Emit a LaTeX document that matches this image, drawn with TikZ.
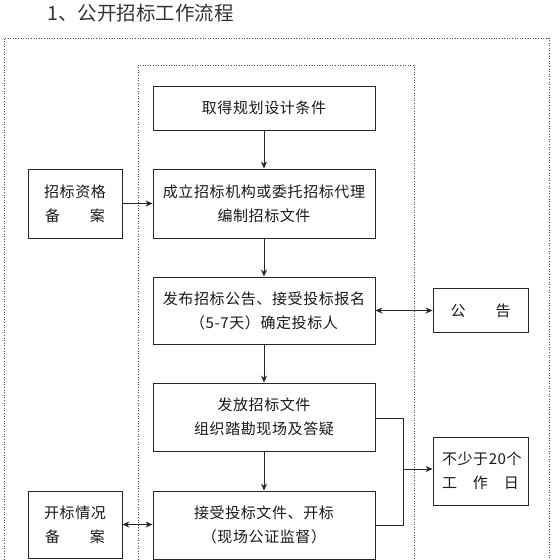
\documentclass[tikz,border=0pt]{standalone}
\usepackage{fontspec}
\newfontfamily\cjk{Noto Sans CJK SC}
\newfontfamily\cjks[LetterSpace=4]{Noto Sans CJK SC}
\usetikzlibrary{arrows.meta}
\tikzset{
  box/.style={draw=black!85, line width=0.9pt, rectangle, inner sep=0pt, align=center,
    font=\cjks\fontsize{15}{24}\selectfont, text=black!90},
  dotbox/.style={draw=black!70, line width=0.9pt, dash pattern=on 1pt off 1.6pt},
  arr/.style={draw=black!85, line width=0.9pt, -{Stealth[length=7pt,width=6pt]}},
  darr/.style={draw=black!85, line width=0.9pt, {Stealth[length=7pt,width=6pt]}-{Stealth[length=7pt,width=6pt]}},
  ln/.style={draw=black!85, line width=0.9pt}
}
\begin{document}
\begin{tikzpicture}[x=1pt,y=-1pt]
\useasboundingbox (0,0) rectangle (552,560);
\clip (0,0) rectangle (552,560);
\fill[white] (0,0) rectangle (552,560);
% title
\node[font=\cjk\fontsize{19.5}{22}\selectfont, text=black!80, anchor=west] (title) at (44,13) {1、公开招标工作流程};
% dotted frames
\draw[dotbox] (4,570) -- (4,38) -- (549,38) -- (549,570);
\draw[dotbox] (138,570) -- (138,65) -- (414,65) -- (414,570);
% main column
\node[box, minimum width=222pt, minimum height=44pt] (b1) at (264,108) {取得规划设计条件};
\node[box, minimum width=222pt, minimum height=69pt] (b2) at (264,203.5) {成立招标机构或委托招标代理\\编制招标文件};
\node[box, minimum width=222pt, minimum height=67pt] (b3) at (264,310.5) {发布招标公告、接受投标报名\\（5-7天）确定投标人};
\node[box, minimum width=222pt, minimum height=68pt] (b4) at (264,417) {发放招标文件\\组织踏勘现场及答疑};
\node[box, minimum width=222pt, minimum height=68pt] (b5) at (264,525) {接受投标文件、开标\\（现场公证监督）};
% left column
\node[box, minimum width=94pt, minimum height=69pt] (l1) at (75,203.5) {招标资格\\备\quad\quad 案};
\node[box, minimum width=94pt, minimum height=67pt] (l2) at (75,524.5) {开标情况\\备\quad\quad 案};
% right column
\node[box, minimum width=95pt, minimum height=44pt] (r1) at (480.5,310.5) {公\qquad 告};
\node[box, minimum width=95pt, minimum height=68pt] (r2) at (480.5,471) {\parbox{77pt}{不少于20个\\[0pt]工\hfill 作\hfill 日}};
% connectors
\draw[arr] (b1) -- (b2);
\draw[arr] (b2) -- (b3);
\draw[arr] (b3) -- (b4);
\draw[arr] (b4) -- (b5);
\coordinate (down) at (264,575);
\draw[ln] (b5) -- (down);
\draw[arr] (l1) -- (b2);
\draw[darr] (b3.east) -- (r1.west);
\draw[darr] (l2.east) -- (l2.east -| b5.west);
\coordinate (brk) at (403,418);
\draw[ln] (b4.east |- brk) -- (brk) |- (b5.east);
\coordinate (brm) at (403,469);
\draw[arr] (brm) -- (r2.west |- brm);
\end{tikzpicture}
\end{document}
